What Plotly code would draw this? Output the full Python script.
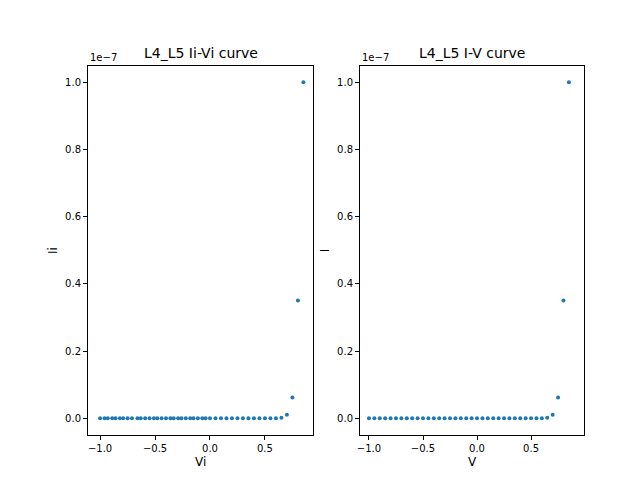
import plotly.graph_objects as go
from plotly.subplots import make_subplots

# Vi/Ii sweep (left), V/I sweep (right)
vi_neg = [-1.0, -0.96, -0.93, -0.89, -0.86, -0.82, -0.79, -0.75, -0.71, -0.66, -0.63, -0.59,
          -0.55, -0.51, -0.48, -0.44, -0.40, -0.36, -0.33, -0.29, -0.26, -0.22, -0.18,
          -0.15, -0.11, -0.07, -0.04, 0.0]
vi_pos = [0.05, 0.1, 0.15, 0.2, 0.25, 0.3, 0.35, 0.4, 0.45, 0.5, 0.55, 0.6, 0.65, 0.7,
          0.75, 0.8, 0.85]
tail_i = [0, 0, 0, 0, 0, 0, 0, 0, 0, 0, 0, 0, 1.5e-10, 1.0e-9, 6.2e-9, 3.5e-8, 1.0e-7]
vi = vi_neg + vi_pos
ii = [0.0] * len(vi_neg) + tail_i

v = [-1.0, -0.95, -0.9, -0.85, -0.8, -0.75, -0.7, -0.65, -0.6, -0.55, -0.5, -0.45, -0.4,
     -0.35, -0.3, -0.25, -0.2, -0.15, -0.1, -0.05, 0.0] + vi_pos
i = [0.0] * 21 + tail_i

scale = 1e-7
blue = "#1f77b4"
font = dict(family="DejaVu Sans", size=12, color="black")

fig = make_subplots(rows=1, cols=2, horizontal_spacing=0.02)
fig.add_trace(go.Scatter(x=vi, y=[y / scale for y in ii], mode="markers",
                         marker=dict(color=blue, size=4)), 1, 1)
fig.add_trace(go.Scatter(x=v, y=[y / scale for y in i], mode="markers",
                         marker=dict(color=blue, size=4)), 1, 2)

ax = dict(showgrid=False, zeroline=False, showline=True, mirror=True, linecolor="black",
          ticks="outside", tickcolor="black", ticklen=4, tickfont=dict(size=10),
          automargin=False)
fig.update_xaxes(**ax)
fig.update_yaxes(**ax, range=[-0.05, 1.048], tickvals=[0, 0.2, 0.4, 0.6, 0.8, 1.0],
                 ticktext=["0.0", "0.2", "0.4", "0.6", "0.8", "1.0"])
fig.update_layout(
    width=640, height=480, showlegend=False, font=font,
    plot_bgcolor="white", paper_bgcolor="white",
    margin=dict(l=0, r=0, t=0, b=0),
    xaxis=dict(domain=[0.125, 0.477], range=[-1.11, 0.94], tickvals=[-1, -0.5, 0, 0.5],
               ticktext=["−1.0", "−0.5", "0.0", "0.5"],
               title=dict(text="Vi", font=dict(size=12), standoff=4)),
    xaxis2=dict(domain=[0.55, 0.9], range=[-1.083, 0.99], tickvals=[-1, -0.5, 0, 0.5],
                ticktext=["−1.0", "−0.5", "0.0", "0.5"],
                title=dict(text="V", font=dict(size=12), standoff=4)),
    yaxis=dict(domain=[0.1104, 0.879], title=dict(text="Ii", font=dict(size=12), standoff=4)),
    yaxis2=dict(domain=[0.1104, 0.879], title=dict(text="I", font=dict(size=12), standoff=4)),
    annotations=[
        dict(text="L4_L5 Ii-Vi curve", x=0.301, y=0.885, xref="paper", yref="paper",
             showarrow=False, xanchor="center", yanchor="bottom", font=dict(size=14)),
        dict(text="L4_L5 I-V curve", x=0.725, y=0.885, xref="paper", yref="paper",
             showarrow=False, xanchor="center", yanchor="bottom", font=dict(size=14)),
        dict(text="1e−7", x=0.125, y=0.882, xref="paper", yref="paper",
             showarrow=False, xanchor="left", yanchor="bottom", font=dict(size=10)),
        dict(text="1e−7", x=0.55, y=0.882, xref="paper", yref="paper",
             showarrow=False, xanchor="left", yanchor="bottom", font=dict(size=10)),
    ],
)
fig.write_html("out.html")
